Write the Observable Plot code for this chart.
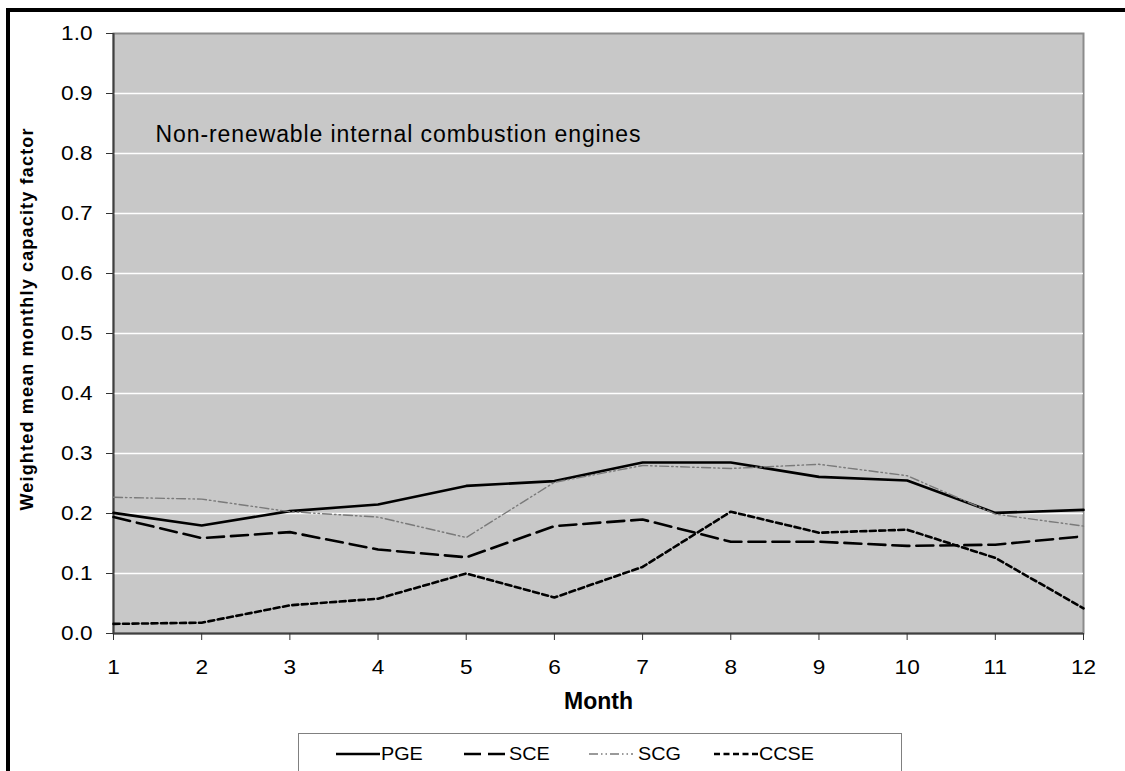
<!DOCTYPE html>
<html><head><meta charset="utf-8">
<script src="https://cdn.jsdelivr.net/npm/d3@7"></script>
<script src="https://cdn.jsdelivr.net/npm/@observablehq/plot@0.6"></script>
<style>
body{margin:0;background:#fff;font-family:Arial,"Liberation Sans",sans-serif;}
#wrap{position:relative;width:1125px;height:771px;overflow:hidden;}
#frame{position:absolute;left:6px;top:8px;width:1300px;height:900px;border-top:4px solid #000;border-left:4px solid #000;}
#chart{position:absolute;left:0;top:0;}
#legend{position:absolute;left:298px;top:733px;width:602px;height:60px;border:1.5px solid #808080;background:#fff;font-size:18px;color:#000;}
#legend .item{position:absolute;top:9px;height:22px;display:flex;align-items:center;}
#legend .item span{display:inline-block;transform:scaleX(1.1);transform-origin:left center;}
#legend svg{display:block;}
</style></head><body>
<div id="wrap"><div id="frame"></div><div id="chart"></div><div id="legend"></div></div>
<script>
const months = [1,2,3,4,5,6,7,8,9,10,11,12];
const pge  = [0.201,0.180,0.204,0.215,0.246,0.254,0.285,0.285,0.261,0.255,0.201,0.206];
const sce  = [0.194,0.159,0.169,0.140,0.127,0.179,0.190,0.153,0.153,0.146,0.148,0.162];
const scg  = [0.227,0.224,0.203,0.194,0.160,0.252,0.280,0.275,0.282,0.263,0.199,0.179];
const ccse = [0.016,0.018,0.047,0.058,0.100,0.060,0.111,0.203,0.168,0.173,0.126,0.042];
const seriesNames = ["PGE","SCE","SCG","CCSE"];
const yTicks = [0,0.1,0.2,0.3,0.4,0.5,0.6,0.7,0.8,0.9,1.0];
const title = "Non-renewable internal combustion engines";
const xLabel = "Month";
const yLabel = "Weighted mean monthly capacity factor";

const values = [pge, sce, scg, ccse];
const styles = {
  PGE:  {stroke:"#000", strokeWidth:2.6, dash:null},
  SCE:  {stroke:"#000", strokeWidth:2.6, dash:"17,7"},
  SCG:  {stroke:"#7a7a7a", strokeWidth:1.4, dash:"9,3,1.5,3,1.5,3"},
  CCSE: {stroke:"#000", strokeWidth:2.6, dash:"6,3.5"}
};
const data = seriesNames.flatMap((n, j) => months.map((m, i) => ({month:m, value:values[j][i], name:n})));

const lineMarks = seriesNames.map(n => Plot.lineY(data.filter(d => d.name === n), {
  x:"month", y:"value", stroke:styles[n].stroke, strokeWidth:styles[n].strokeWidth,
  strokeDasharray:styles[n].dash || undefined, strokeLinejoin:"round"
}));

const chart = Plot.plot({
  width:1125, height:771,
  marginLeft:113, marginRight:42, marginTop:33, marginBottom:138,
  style:{fontFamily:"Arial, 'Liberation Sans', sans-serif", fontSize:"20px", background:"transparent", color:"#000", overflow:"visible"},
  x:{domain:[1,12], label:null},
  y:{domain:[0,1], label:null},
  marks:[
    Plot.frame({fill:"#c8c8c8", stroke:"#8c8c8c", strokeWidth:2}),
    Plot.gridY(yTicks.filter(t => t > 0 && t < 1), {stroke:"#fff", strokeOpacity:1, strokeWidth:1.5}),
    Plot.ruleX([1], {stroke:"#404040", strokeWidth:2}),
    Plot.ruleY([0], {stroke:"#404040", strokeWidth:2}),
    Plot.axisX(months, {tickSize:7, tickPadding:19, fontSize:20, tickFormat:d => String(d), stroke:"#333", fill:"#000", label:null, className:"xax"}),
    Plot.axisY(yTicks, {tickSize:7, tickPadding:14, fontSize:20, tickFormat:d => d.toFixed(1), stroke:"#333", fill:"#000", label:null, className:"yax"}),
    ...lineMarks,
    Plot.text([title], {frameAnchor:"top-left", dx:42, dy:108, textAnchor:"start", lineAnchor:"bottom", fontSize:23, fill:"#000"}),
    Plot.text([xLabel], {frameAnchor:"bottom", dy:75, fontSize:23, fontWeight:"bold", fill:"#000"}),
    Plot.text([yLabel], {frameAnchor:"left", dx:-86, dy:-14, textAnchor:"middle", rotate:-90, fontSize:18, fontWeight:"bold", fill:"#000"})
  ]
});
document.getElementById("chart").appendChild(chart);

// stretch texts to the reference's widths
const sel = d3.select(chart);
sel.selectAll("text").filter(function(){ return this.textContent === title; })
  .attr("textLength", 485).attr("lengthAdjust", "spacing");
sel.selectAll("text").filter(function(){ return this.textContent === yLabel; })
  .attr("textLength", 382).attr("lengthAdjust", "spacing");
sel.selectAll("g[aria-label='x-axis tick label'] text, g[aria-label='y-axis tick label'] text").each(function(){
  const w = this.getComputedTextLength();
  if (w > 0) d3.select(this).attr("textLength", w * 1.13).attr("lengthAdjust", "spacingAndGlyphs");
});

// legend
const legend = document.getElementById("legend");
const legendX = [37, 165, 290, 415];
seriesNames.forEach((n, i) => {
  const s = styles[n];
  const item = document.createElement("div");
  item.className = "item";
  item.style.left = legendX[i] + "px";
  item.innerHTML = `<svg width="44" height="10"><line x1="0" y1="5" x2="44" y2="5" stroke="${s.stroke}" stroke-width="${s.strokeWidth}" ${s.dash ? `stroke-dasharray="${s.dash}"` : ""}/></svg><span style="margin-left:${n==="SCG"?5:1}px">${n}</span>`;
  legend.appendChild(item);
});
</script>
</body></html>
